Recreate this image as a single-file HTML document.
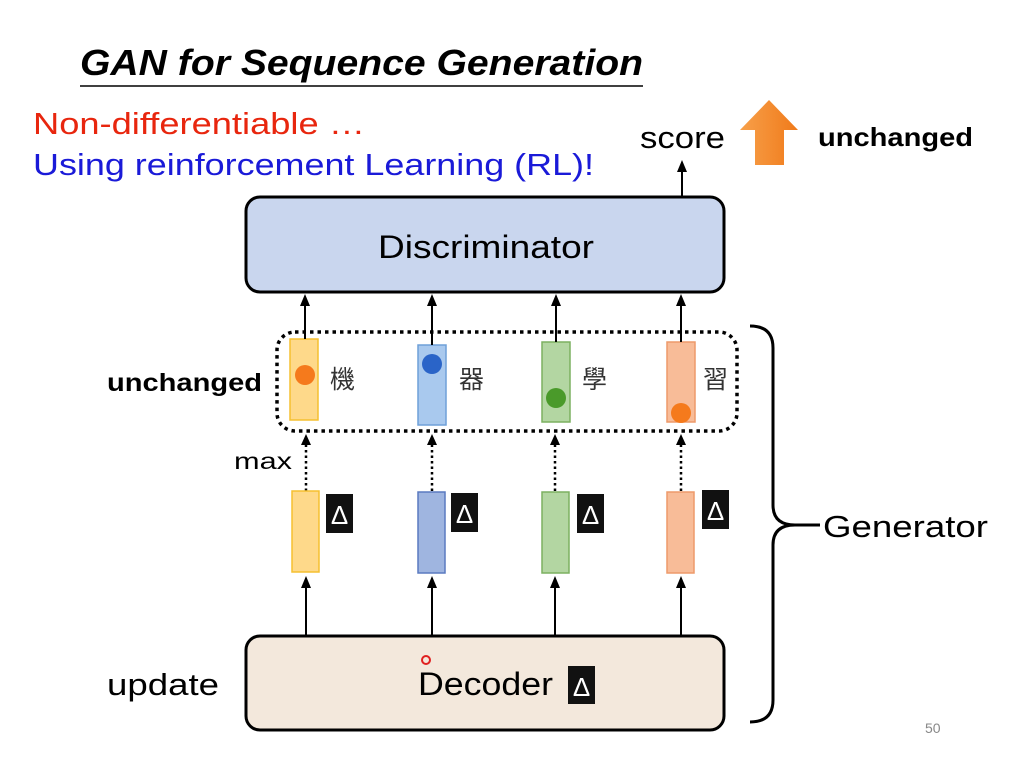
<!DOCTYPE html>
<html><head><meta charset="utf-8"><style>
html,body{margin:0;padding:0;background:#fff;}
svg{display:block;}
text{font-family:"Liberation Sans","Noto Sans CJK TC",sans-serif;}
</style></head><body>
<svg width="1020" height="760" viewBox="0 0 1020 760" xmlns="http://www.w3.org/2000/svg">
<defs>
<linearGradient id="org" x1="0" x2="1"><stop offset="0" stop-color="#f7a04a"/><stop offset="1" stop-color="#f07a1a"/></linearGradient>
</defs>
<text x="80" y="75" font-size="36" font-weight="bold" font-style="italic" textLength="563" lengthAdjust="spacingAndGlyphs">GAN for Sequence Generation</text>
<line x1="80" y1="86" x2="643" y2="86" stroke="#000" stroke-width="1.5"/>
<text x="33" y="134" font-size="31" fill="#e8260e" textLength="332" lengthAdjust="spacingAndGlyphs">Non-differentiable …</text>
<text x="33" y="175" font-size="31" fill="#1a1ad8" textLength="561" lengthAdjust="spacingAndGlyphs">Using reinforcement Learning (RL)!</text>
<text x="640" y="148" font-size="31" textLength="85" lengthAdjust="spacingAndGlyphs">score</text>
<path d="M769,100 L798,130 L784,130 L784,165 L755,165 L755,130 L740,130 Z" fill="url(#org)"/>
<text x="818" y="146" font-size="26" font-weight="bold" textLength="155" lengthAdjust="spacingAndGlyphs">unchanged</text>

<rect x="246" y="197" width="478" height="95" rx="14" fill="#c9d6ee" stroke="#000" stroke-width="3"/>
<text x="378" y="258" font-size="32" textLength="216" lengthAdjust="spacingAndGlyphs">Discriminator</text>
<line x1="682" y1="197" x2="682" y2="170" stroke="#000" stroke-width="2"/>
<path d="M677,172 L682,160 L687,172Z"/>

<rect x="277" y="332" width="460" height="99" rx="18" fill="none" stroke="#000" stroke-width="3.5" stroke-dasharray="3.5,4"/>
<text x="107" y="391" font-size="25" font-weight="bold" textLength="155" lengthAdjust="spacingAndGlyphs">unchanged</text>
<text x="234" y="469" font-size="23" textLength="58" lengthAdjust="spacingAndGlyphs">max</text>

<g stroke-width="1.5">
<rect x="290" y="339" width="28" height="81" fill="#fed98a" stroke="#f5c030"/>
<rect x="418" y="345" width="28" height="80" fill="#a9c9ee" stroke="#6fa0d8"/>
<rect x="542" y="342" width="28" height="80" fill="#b3d6a2" stroke="#7cb060"/>
<rect x="667" y="342" width="28" height="80" fill="#f8bc98" stroke="#ee9a6a"/>
</g>
<circle cx="305" cy="375" r="10" fill="#f57a1c"/>
<circle cx="432" cy="364" r="10" fill="#2a64c8"/>
<circle cx="556" cy="398" r="10" fill="#4a9a2a"/>
<circle cx="681" cy="413" r="10" fill="#f57a1c"/>
<g font-size="25" fill="#333">
<text x="330" y="388">機</text><text x="459" y="388">器</text><text x="582" y="388">學</text><text x="703" y="388">習</text>
</g>
<g stroke="#000" stroke-width="2">
<line x1="305" y1="339" x2="305" y2="304"/>
<line x1="432" y1="345" x2="432" y2="304"/>
<line x1="556" y1="342" x2="556" y2="304"/>
<line x1="681" y1="342" x2="681" y2="304"/>
</g>
<g fill="#000">
<path d="M300,306 L305,294 L310,306Z"/><path d="M427,306 L432,294 L437,306Z"/><path d="M551,306 L556,294 L561,306Z"/><path d="M676,306 L681,294 L686,306Z"/>
</g>
<g stroke="#000" stroke-width="2.5" stroke-dasharray="2.5,3">
<line x1="306" y1="491" x2="306" y2="444"/>
<line x1="432" y1="491" x2="432" y2="444"/>
<line x1="555" y1="491" x2="555" y2="444"/>
<line x1="681" y1="491" x2="681" y2="444"/>
</g>
<g fill="#000">
<path d="M301,445 L306,434 L311,445Z"/><path d="M427,445 L432,434 L437,445Z"/><path d="M550,445 L555,434 L560,445Z"/><path d="M676,445 L681,434 L686,445Z"/>
</g>
<g stroke-width="1.5">
<rect x="292" y="491" width="27" height="81" fill="#fed98a" stroke="#f5c030"/>
<rect x="418" y="492" width="27" height="81" fill="#9fb5e0" stroke="#5a7ac0"/>
<rect x="542" y="492" width="27" height="81" fill="#b3d6a2" stroke="#7cb060"/>
<rect x="667" y="492" width="27" height="81" fill="#f8bc98" stroke="#ee9a6a"/>
</g>
<g>
<rect x="326" y="494" width="27" height="39" fill="#111"/><text x="339.5" y="524" font-size="26" fill="#fff" text-anchor="middle">Δ</text>
<rect x="451" y="493" width="27" height="39" fill="#111"/><text x="464.5" y="523" font-size="26" fill="#fff" text-anchor="middle">Δ</text>
<rect x="577" y="494" width="27" height="39" fill="#111"/><text x="590.5" y="524" font-size="26" fill="#fff" text-anchor="middle">Δ</text>
<rect x="702" y="490" width="27" height="39" fill="#111"/><text x="715.5" y="520" font-size="26" fill="#fff" text-anchor="middle">Δ</text>
</g>
<g stroke="#000" stroke-width="2">
<line x1="306" y1="636" x2="306" y2="586"/>
<line x1="432" y1="636" x2="432" y2="586"/>
<line x1="555" y1="636" x2="555" y2="586"/>
<line x1="681" y1="636" x2="681" y2="586"/>
</g>
<g fill="#000">
<path d="M301,588 L306,576 L311,588Z"/><path d="M427,588 L432,576 L437,588Z"/><path d="M550,588 L555,576 L560,588Z"/><path d="M676,588 L681,576 L686,588Z"/>
</g>

<rect x="246" y="636" width="478" height="94" rx="14" fill="#f3e8dc" stroke="#000" stroke-width="3"/>
<text x="418" y="695" font-size="32" textLength="135" lengthAdjust="spacingAndGlyphs">Decoder</text>
<rect x="568" y="666" width="27" height="38" fill="#111"/><text x="581.5" y="696" font-size="26" fill="#fff" text-anchor="middle">Δ</text>
<circle cx="426" cy="660" r="4" fill="none" stroke="#e02020" stroke-width="2"/>
<text x="107" y="695" font-size="31" textLength="112" lengthAdjust="spacingAndGlyphs">update</text>

<path d="M750,326 Q773,326 773,348 L773,505 Q773,525 795,525 L820,525 M795,525 Q773,525 773,545 L773,700 Q773,722 750,722" fill="none" stroke="#000" stroke-width="3"/>
<text x="823" y="537" font-size="31" textLength="165" lengthAdjust="spacingAndGlyphs">Generator</text>
<text x="925" y="733" font-size="14" fill="#888">50</text>
</svg>
</body></html>
